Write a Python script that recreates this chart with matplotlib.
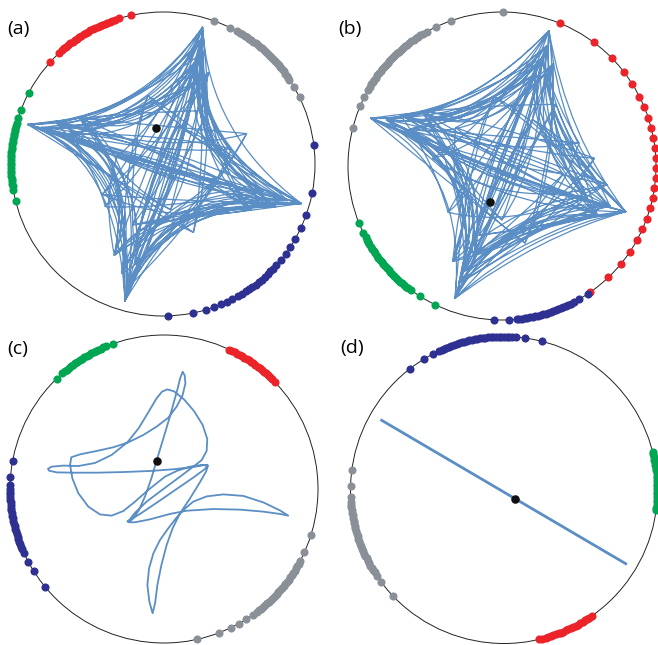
import numpy as np
import matplotlib.pyplot as plt
from matplotlib.path import Path
from matplotlib.patches import PathPatch, Circle

W, H = 658, 645

RED = '#ec2329'
GRAY = '#8a9097'
BLUE = '#2e3192'
GREEN = '#00a651'
TRACE = '#5a8ec4'

# ---- phases on the unit circle (degrees) ----
a_red = [102.2, 106.7, 108.5, 109.5, 110.5, 111.5, 112.5, 113.5, 114.5, 115.5, 116.5,
         117.5, 118.5, 119.5, 120.5, 121.5, 122.5, 123.5, 124.5, 125.5, 126.5, 127.5,
         128.5, 129.5, 130.5, 131.5, 133.0, 138.1]
a_green = [152.2, 159.1, 162.5, 164.5, 165.5, 166.5, 167.5, 168.5, 169.5, 170.5, 171.5,
           172.5, 173.5, 174.5, 175.5, 176.5, 177.5, 178.5, 179.5, 180.5, 181.5, 182.5,
           183.5, 184.5, 185.5, 186.5, 187.5, 188.5, 189.9, 194.1]
a_gray = [70.5, 63.8, 60.7, 59.5, 58.5, 57.5, 56.5, 55.5, 54.5, 53.5, 52.5, 51.5, 50.5,
          49.5, 48.5, 47.5, 46.5, 45.5, 44.5, 43.5, 42.5, 41.5, 40.5, 39.5, 38.5, 37.5,
          36.5, 35.5, 34.5, 33.7, 30.6, 26.0]
a_blue = [7.1, -11.0, -19.6, -25.1, -29.5, -33.2, -36.2, -39.1, -41.8, -43.5, -45.0,
          -46.5, -48.0, -49.5, -51.0, -52.5, -54.0, -55.5, -57.0, -58.5, -60.6, -62.8,
          -65.1, -67.5, -70.5, -73.7, -78.5, -88.2]

b_gray = [89.6, 109.2, 115.3, 119.2, 121, 122, 123, 124, 125, 126, 127, 128, 129, 130,
          131, 132, 133, 134, 135, 136, 137, 138, 139, 140, 141, 142, 143, 144, 145, 146,
          147, 148, 149, 150.6, 153.3, 157.0, 165.6]
b_green = [201.7, 205.9, 207.6, 208.6, 209.6, 210.6, 211.6, 212.6, 213.6, 214.6, 215.6,
           216.6, 217.6, 218.6, 219.6, 220.6, 221.6, 222.6, 223.6, 224.6, 225.6, 226.6,
           227.6, 228.6, 229.6, 230.6, 231.6, 232.6, 233.8, 237.7, 244.1]
b_red = [67.9, 53.5, 44.3, 37.7, 32.2, 26.8, 22.5, 18.3, 14.2, 10.4, 6.6, 2.9, -0.9,
         -4.6, -8.3, -12.1, -16.0, -20.1, -24.2, -28.8, -34.0, -39.6, -46.3, -55.0]
b_blue = [-92.8, -87.3, -84.5, -83.5, -82.5, -81.5, -80.5, -79.5, -78.5, -77.5, -76.5,
          -75.5, -74.5, -73.5, -72.5, -71.5, -70.5, -69.5, -68.5, -67.5, -66.5, -65.5,
          -64.5, -63.5, -62.3, -59.9, -55.9]

c_green = [134.2, 131.4, 130.2, 129.2, 128.2, 127.2, 126.2, 125.2, 124.2, 123.2, 122.2,
           121.2, 120.2, 119.2, 118.2, 117.2, 116.2, 115.2, 114.2, 113.2, 112.2, 109.4]
c_red = [64.9, 63.6, 62.6, 61.6, 60.6, 59.6, 58.6, 57.6, 56.6, 55.6, 54.6, 53.6, 52.6,
         51.6, 50.6, 49.6, 48.6, 47.6, 46.6, 45.7, 43.9]
c_blue = [169.4, 175.7, 178.6, 180.0, 181.0, 182.0, 183.0, 184.0, 185.0, 186.0, 187.0,
          188.0, 189.0, 190.0, 191.0, 192.0, 193.0, 194.0, 195.0, 196.0, 197.0, 198.0,
          199.0, 200.0, 201.0, 202.0, 203.0, 204.4, 208.2, 212.1, 219.5]
c_gray = [-17.2, -24.3, -27.7, -29.0, -30.0, -31.0, -32.0, -33.0, -34.0, -35.0, -36.0,
          -37.0, -38.0, -39.0, -40.0, -41.0, -42.0, -43.0, -44.0, -45.0, -46.0, -47.0,
          -48.0, -49.0, -50.0, -51.0, -52.0, -53.0, -54.7, -57.7, -60.9, -64.3, -69.1,
          -77.5]

d_blue = [127.9, 121.6, 117.7, 115.2, 114.0, 113.0, 112.0, 111.0, 110.0, 109.0, 108.0,
          107.0, 106.0, 105.0, 104.0, 103.0, 102.0, 101.0, 100.0, 99.0, 98.0, 97.0, 96.0,
          95.0, 94.0, 93.0, 92.0, 91.0, 90.0, 89.0, 88.0, 87.0, 85.6, 82.2, 75.7]
d_green = [14.4, 13.4, 12.4, 11.4, 10.4, 9.4, 8.4, 7.4, 6.4, 5.4, 4.4, 3.4, 2.4, 1.4,
           0.4, -0.6, -1.6, -2.6, -3.6, -4.6, -5.6, -6.6, -7.6]
d_gray = [172.4, 178.6, 182.6, 184.5, 185.5, 186.5, 187.5, 188.5, 189.5, 190.5, 191.5,
          192.5, 193.5, 194.5, 195.5, 196.5, 197.5, 198.5, 199.5, 200.5, 201.5, 202.5,
          203.5, 204.5, 205.5, 206.5, 207.5, 208.5, 209.5, 210.5, 211.5, 212.5, 214.1,
          217.0, 223.6]
d_red = [-55.0, -56.2, -57.2, -58.2, -59.2, -60.2, -61.2, -62.2, -63.2, -64.2, -65.2,
         -66.2, -67.2, -68.2, -69.2, -70.2, -71.2, -72.2, -73.2, -74.2, -75.7, -76.7]

# ---- mean-field point ----
centroid = {'a': (-0.046, 0.239), 'b': (-0.078, -0.232),
            'c': (-0.048, 0.184), 'd': (0.070, -0.057)}

# ---- order-parameter trajectories ----
# (a), (b): knots and quadratic control points of the trajectory
a_knots = [(0.26, 0.90), (-0.89, 0.26), (0.91, -0.26), (-0.25, -0.90), (0.25, 0.82),
           (-0.80, 0.24), (-0.24, -0.82), (0.82, -0.24), (0.27, 0.74), (-0.70, 0.27),
           (0.74, -0.28), (-0.27, -0.72), (0.22, 0.66), (-0.62, 0.20), (0.66, -0.18),
           (-0.18, -0.66), (0.30, 0.60), (-0.55, 0.30), (-0.32, -0.60), (0.58, -0.30),
           (0.26, 0.90), (0.91, -0.26), (-0.89, 0.26), (-0.25, -0.90), (0.25, 0.82),
           (0.74, -0.28), (-0.80, 0.24), (0.27, 0.74), (-0.24, -0.82), (0.82, -0.24),
           (-0.70, 0.27), (-0.18, -0.66), (0.22, 0.66), (0.66, -0.18), (-0.62, 0.20),
           (0.30, 0.60), (-0.27, -0.72), (-0.55, 0.30), (0.58, -0.30), (0.26, 0.90),
           (-0.32, -0.60), (0.91, -0.26), (-0.89, 0.26), (0.25, 0.82), (-0.25, -0.90),
           (0.74, -0.28), (-0.80, 0.24), (0.27, 0.74),
           (0.45, 0.10), (-0.89, 0.26), (0.20, -0.45), (0.26, 0.90), (-0.40, -0.20),
           (0.91, -0.26), (-0.10, 0.45), (-0.25, -0.90), (0.35, -0.10), (-0.80, 0.24),
           (0.05, -0.30), (0.25, 0.82), (-0.30, 0.05), (0.82, -0.24), (0.10, 0.25),
           (-0.24, -0.82), (0.55, 0.20), (-0.70, 0.27), (-0.38, -0.28), (0.27, 0.74),
           (-0.20, -0.40), (0.74, -0.28), (0.30, 0.35), (-0.27, -0.72), (0.45, 0.10),
           (-0.62, 0.20), (0.20, -0.45), (0.22, 0.66), (-0.38, -0.28), (0.66, -0.18),
           (-0.10, 0.45), (-0.18, -0.66), (0.55, 0.20), (-0.55, 0.30), (0.05, -0.30),
           (0.30, 0.60), (-0.40, -0.20), (0.58, -0.30), (-0.30, 0.05), (-0.32, -0.60),
           (0.35, -0.10), (-0.89, 0.26), (0.30, 0.35), (-0.25, -0.90), (0.10, 0.25),
           (0.91, -0.26), (-0.20, -0.40), (0.26, 0.90), (-0.80, 0.24), (0.82, -0.24),
           (-0.24, -0.82), (0.25, 0.82),
           (-0.89, 0.26), (-0.25, -0.90), (0.91, -0.26), (0.25, 0.82), (-0.80, 0.24),
           (-0.24, -0.82), (0.82, -0.24), (0.27, 0.74), (-0.70, 0.27), (-0.27, -0.72),
           (0.74, -0.28), (0.22, 0.66), (-0.62, 0.20), (-0.18, -0.66), (0.66, -0.18),
           (0.30, 0.60), (-0.55, 0.30), (-0.32, -0.60), (0.58, -0.30), (0.26, 0.90),
           (-0.80, 0.24), (-0.27, -0.72), (0.66, -0.18), (0.30, 0.60), (-0.89, 0.26),
           (-0.24, -0.82), (0.74, -0.28), (0.22, 0.66), (-0.55, 0.30), (-0.25, -0.90),
           (0.82, -0.24), (0.27, 0.74), (-0.62, 0.20), (-0.32, -0.60), (0.91, -0.26),
           (0.25, 0.82)]
a_ctrl = [(-0.18, 0.28), (0.02, 0.02), (-0.03, -0.25), (0.06, -0.02), (-0.10, 0.20),
          (-0.22, 0.02), (0.05, -0.15), (0.21, 0.12), (-0.25, 0.35), (0.05, 0.10),
          (-0.10, -0.30), (0.20, 0.10), (-0.05, 0.30), (-0.05, -0.08), (0.10, -0.35),
          (-0.15, -0.05), (-0.20, 0.15), (-0.15, -0.10), (-0.05, -0.30), (0.15, 0.05),
          (0.30, 0.20), (0.10, -0.05), (-0.30, 0.05), (0.10, -0.15), (0.10, 0.15),
          (-0.10, 0.05), (-0.12, 0.22), (-0.05, 0.15), (0.00, -0.20), (0.00, 0.15),
          (-0.10, 0.05), (0.12, 0.05), (0.18, 0.08), (0.00, -0.15), (-0.15, 0.25),
          (0.00, 0.05), (-0.20, -0.05), (0.08, 0.05), (0.25, 0.15), (-0.10, 0.00),
          (0.08, -0.28), (-0.03, -0.03), (-0.20, 0.30), (0.15, -0.05), (-0.08, -0.22),
          (0.05, -0.10), (-0.08, 0.18),
          (0.20, 0.35), (-0.05, 0.05), (-0.30, -0.10), (0.35, 0.10), (-0.05, 0.25),
          (0.10, -0.25), (0.30, 0.05), (-0.30, -0.05), (0.05, -0.40), (0.00, 0.15),
          (-0.35, -0.10), (0.25, 0.05), (0.00, 0.30), (0.20, -0.20), (0.45, 0.10),
          (-0.10, -0.10), (0.25, -0.35), (0.05, 0.05), (-0.45, 0.00), (-0.05, 0.00),
          (0.15, 0.05), (0.25, -0.30), (0.40, 0.00), (0.05, -0.15), (0.25, -0.40),
          (0.00, 0.20), (-0.25, -0.25), (0.30, 0.15), (-0.10, 0.10), (0.00, -0.30),
          (0.35, 0.15), (-0.25, 0.00), (0.30, -0.25), (0.00, 0.25), (-0.25, -0.15),
          (0.15, 0.10), (-0.05, 0.10), (0.05, -0.40), (0.10, 0.00), (-0.40, -0.20),
          (0.05, -0.35), (-0.10, -0.05), (-0.20, 0.35), (0.05, -0.10), (-0.15, -0.20),
          (0.40, 0.05), (0.25, -0.35), (0.00, 0.10), (-0.15, 0.30), (0.00, -0.05),
          (0.00, -0.30), (0.02, 0.02),
          (-0.18, 0.28), (-0.22, 0.02), (-0.03, -0.25), (0.19, 0.11), (-0.14, 0.22),
          (-0.18, 0.02), (-0.02, -0.20), (0.15, 0.08), (-0.11, 0.17), (-0.13, 0.01),
          (-0.02, -0.15), (0.10, 0.06), (-0.09, 0.14), (-0.11, 0.01), (-0.02, -0.12),
          (0.17, 0.10), (-0.16, 0.25), (-0.20, 0.02), (-0.03, -0.22), (0.21, 0.12),
          (-0.13, 0.20), (-0.15, 0.01), (-0.02, -0.18), (0.13, 0.07), (-0.17, 0.27),
          (-0.21, 0.02), (-0.03, -0.24), (0.20, 0.11), (-0.07, 0.11), (-0.09, 0.01),
          (-0.01, -0.10), (0.08, 0.05), (-0.15, 0.24), (-0.19, 0.02), (-0.03, -0.21),
          (0.18, 0.10)]

b_knots = [(0.305, 0.879), (-0.853, 0.310), (0.803, -0.297), (-0.305, -0.859), (0.29, 0.78),
           (-0.75, 0.30), (-0.28, -0.76), (0.70, -0.26), (0.26, 0.70), (-0.66, 0.33),
           (0.62, -0.32), (-0.24, -0.68), (0.33, 0.66), (-0.60, 0.24), (0.55, -0.20),
           (-0.32, -0.62), (0.22, 0.60), (-0.52, 0.36), (-0.18, -0.58), (0.68, -0.12),
           (0.305, 0.879), (0.803, -0.297), (-0.853, 0.310), (-0.305, -0.859), (0.29, 0.78),
           (0.62, -0.32), (-0.75, 0.30), (0.26, 0.70), (-0.28, -0.76), (0.70, -0.26),
           (-0.66, 0.33), (-0.32, -0.62), (0.33, 0.66), (0.55, -0.20), (-0.60, 0.24),
           (0.22, 0.60), (-0.24, -0.68), (-0.52, 0.36), (0.68, -0.12), (0.305, 0.879),
           (-0.18, -0.58), (0.803, -0.297), (-0.853, 0.310), (0.29, 0.78), (-0.305, -0.859),
           (0.62, -0.32), (-0.75, 0.30), (0.26, 0.70),
           (0.50, 0.15), (-0.853, 0.310), (0.15, -0.50), (0.305, 0.879), (-0.45, 0.05),
           (0.803, -0.297), (-0.05, 0.45), (-0.305, -0.859), (0.40, -0.05), (-0.75, 0.30),
           (0.00, -0.35), (0.29, 0.78), (-0.30, 0.25), (0.70, -0.26), (0.20, 0.30),
           (-0.28, -0.76), (0.60, 0.05), (-0.66, 0.33), (-0.35, -0.30), (0.26, 0.70),
           (-0.15, -0.45), (0.62, -0.32), (0.35, 0.40), (-0.24, -0.68), (0.50, 0.15),
           (-0.60, 0.24), (0.15, -0.50), (0.33, 0.66), (-0.35, -0.30), (0.55, -0.20),
           (-0.05, 0.45), (-0.32, -0.62), (0.60, 0.05), (-0.52, 0.36), (0.00, -0.35),
           (0.22, 0.60), (-0.45, 0.05), (0.68, -0.12), (-0.30, 0.25), (-0.18, -0.58),
           (0.40, -0.05), (-0.853, 0.310), (0.35, 0.40), (-0.305, -0.859), (0.20, 0.30),
           (0.803, -0.297), (-0.15, -0.45), (0.305, 0.879), (-0.75, 0.30), (0.70, -0.26),
           (-0.28, -0.76), (0.29, 0.78),
           (-0.853, 0.310), (-0.305, -0.859), (0.803, -0.297), (0.29, 0.78), (-0.75, 0.30),
           (-0.28, -0.76), (0.70, -0.26), (0.26, 0.70), (-0.66, 0.33), (-0.24, -0.68),
           (0.62, -0.32), (0.33, 0.66), (-0.60, 0.24), (-0.32, -0.62), (0.55, -0.20),
           (0.22, 0.60), (-0.52, 0.36), (-0.18, -0.58), (0.68, -0.12), (0.305, 0.879),
           (-0.75, 0.30), (-0.24, -0.68), (0.55, -0.20), (0.22, 0.60), (-0.853, 0.310),
           (-0.28, -0.76), (0.62, -0.32), (0.33, 0.66), (-0.52, 0.36), (-0.305, -0.859),
           (0.70, -0.26), (0.26, 0.70), (-0.60, 0.24), (-0.18, -0.58), (0.803, -0.297),
           (0.29, 0.78)]
b_ctrl = [(-0.25, 0.30), (-0.05, -0.05), (0.19, -0.42), (-0.05, 0.00), (-0.15, 0.22),
          (-0.08, -0.03), (0.10, -0.30), (0.35, 0.11), (-0.30, 0.38), (0.00, 0.08),
          (0.05, -0.40), (0.12, 0.05), (-0.10, 0.30), (-0.10, -0.15), (0.25, -0.48),
          (-0.20, -0.08), (-0.22, 0.15), (-0.15, -0.12), (0.02, -0.38), (0.25, 0.02),
          (0.42, 0.20), (0.05, -0.10), (-0.22, 0.00), (0.05, -0.12), (0.22, 0.15),
          (-0.12, 0.00), (-0.15, 0.25), (-0.12, 0.10), (0.08, -0.25), (-0.05, 0.10),
          (-0.05, 0.05), (0.08, 0.05), (0.30, 0.05), (0.00, -0.20), (-0.20, 0.35),
          (-0.05, 0.02), (-0.25, -0.10), (0.02, 0.00), (0.38, 0.18), (-0.15, -0.02),
          (0.15, -0.35), (-0.08, -0.08), (-0.28, 0.28), (0.10, -0.08), (0.00, -0.30),
          (0.00, -0.12), (-0.10, 0.22),
          (0.35, 0.40), (-0.10, 0.05), (-0.30, -0.15), (0.40, 0.05), (-0.05, 0.30),
          (0.10, -0.30), (0.40, 0.10), (-0.25, -0.05), (0.10, -0.45), (0.00, 0.15),
          (-0.35, -0.05), (0.25, 0.00), (0.00, 0.40), (0.10, -0.10), (0.55, 0.10),
          (-0.10, -0.15), (0.30, -0.45), (0.00, 0.10), (-0.45, 0.05), (-0.05, -0.05),
          (0.20, 0.00), (0.20, -0.40), (0.50, 0.05), (0.05, -0.10), (0.30, -0.45),
          (-0.05, 0.20), (-0.20, -0.25), (0.35, 0.10), (-0.10, 0.15), (0.05, -0.40),
          (0.40, 0.20), (-0.25, 0.05), (0.30, -0.35), (0.05, 0.25), (-0.25, -0.10),
          (0.15, 0.05), (-0.05, 0.15), (0.05, -0.30), (0.10, 0.10), (-0.35, -0.15),
          (0.10, -0.35), (-0.10, 0.00), (-0.20, 0.40), (0.05, -0.15), (-0.10, -0.20),
          (0.45, 0.10), (0.25, -0.40), (0.00, 0.05), (-0.20, 0.35), (-0.05, -0.05),
          (0.15, -0.40), (-0.02, 0.00),
          (-0.25, 0.30), (-0.03, 0.00), (0.25, -0.45), (0.22, 0.28), (-0.20, 0.24),
          (-0.02, 0.00), (0.20, -0.36), (0.18, 0.22), (-0.15, 0.18), (-0.02, 0.00),
          (0.15, -0.27), (0.12, 0.15), (-0.12, 0.15), (-0.10, -0.05), (0.12, -0.22),
          (0.20, 0.25), (-0.22, 0.27), (-0.08, 0.02), (0.22, -0.40), (0.25, 0.31),
          (-0.17, 0.21), (0.00, -0.05), (0.17, -0.31), (0.15, 0.19), (-0.24, 0.29),
          (-0.06, 0.03), (0.24, -0.43), (0.24, 0.29), (-0.10, 0.12), (-0.04, -0.04),
          (0.10, -0.18), (0.10, 0.12), (-0.21, 0.26), (-0.05, 0.02), (0.21, -0.38),
          (0.21, 0.26)]

# (c): sampled trajectory
c_x = [0.121, 0.106, 0.089, 0.065, 0.035, -0.004, -0.048, -0.082, -0.121, -0.162, -0.199,
       -0.229, -0.188, -0.091, 0.039, 0.147, 0.320, 0.494, 0.645, 0.753, 0.807,
       0.753, 0.645, 0.515, 0.385, 0.277, 0.190, 0.126, 0.078, 0.028, -0.026, -0.069,
       -0.097, -0.108, -0.095, -0.074,
       -0.058, -0.043, -0.017, 0.017, 0.056, 0.104, 0.169, 0.229, 0.273, 0.286,
       0.266, 0.190, 0.061, -0.091, -0.264, -0.437, -0.589, -0.697, -0.747, -0.753,
       -0.729, -0.654, -0.556, -0.448, -0.340, -0.238, -0.165, -0.102, -0.048, -0.013,
       0.022, 0.065, 0.130, 0.195, 0.251, 0.281, 0.277, 0.245, 0.190, 0.104, -0.004,
       -0.113, -0.188, -0.225,
       -0.238, -0.156, -0.037, 0.082, 0.190, 0.266, 0.281, 0.245, 0.169, 0.082, 0.006,
       -0.102, -0.188, -0.264, -0.340, -0.416, -0.491, -0.556, -0.595, -0.610, -0.602,
       -0.545, -0.437, -0.329, -0.232, -0.134, -0.048, 0.028, 0.082, 0.121, 0.139, 0.134,
       0.121]
c_y = [0.758, 0.723, 0.654, 0.567, 0.459, 0.329, 0.184, 0.069, -0.043, -0.136, -0.190,
       -0.216, -0.216, -0.197, -0.162, -0.141, -0.130, -0.134, -0.147, -0.162, -0.173,
       -0.139, -0.087, -0.045, -0.035, -0.048, -0.082, -0.136, -0.190, -0.255, -0.331,
       -0.418, -0.515, -0.623, -0.732, -0.807,
       -0.742, -0.623, -0.494, -0.364, -0.255, -0.158, -0.061, 0.037, 0.113, 0.152,
       0.156, 0.143, 0.128, 0.117, 0.110, 0.106, 0.106, 0.108, 0.119, 0.132,
       0.145, 0.152, 0.149, 0.169, 0.221, 0.303, 0.394, 0.498, 0.589, 0.632,
       0.647, 0.634, 0.582, 0.506, 0.416, 0.325, 0.247, 0.188, 0.145, 0.080, 0.000,
       -0.082, -0.154, -0.201,
       -0.212, -0.162, -0.082, 0.000, 0.074, 0.130, 0.156, 0.156, 0.145, 0.117, 0.080,
       -0.006, -0.082, -0.143, -0.173, -0.165, -0.115, -0.028, 0.069, 0.156, 0.206,
       0.225, 0.247, 0.271, 0.303, 0.351, 0.405, 0.463, 0.535, 0.610, 0.686, 0.740,
       0.758]

# (d): trajectory collapsed onto a line
d_x = [-0.797, 0.793]
d_y = [0.454, -0.480]

# panel centre (x, y from top) and radius in figure pixels
layout = {'a': (163, 164, 152), 'b': (502, 166, 154),
          'c': (164, 489, 154), 'd': (504, 490, 153.5)}
label_pos = {'a': (7, 29), 'b': (338, 29), 'c': (7, 349), 'd': (340, 348)}


def make_panel(fig, key):
    cx, cy, r = layout[key]
    ax = fig.add_axes([(cx - r) / W, (H - cy - r) / H, 2 * r / W, 2 * r / H])
    ax.set_xlim(-1, 1)
    ax.set_ylim(-1, 1)
    ax.set_aspect('equal')
    ax.axis('off')
    ax.add_patch(Circle((0, 0), 1, fill=False, ec='#222222', lw=0.7, clip_on=False))
    lx, ly = label_pos[key]
    fig.text(lx / W, 1 - ly / H, f'({key})', fontsize=14, family='Open Sans',
             ha='left', va='center')
    return ax


def ring(ax, angles, color):
    t = np.deg2rad(angles)
    ax.scatter(np.cos(t), np.sin(t), s=34, color=color, lw=0, zorder=3, clip_on=False)


def curved_trace(ax, knots, ctrl):
    verts = [knots[0]]
    codes = [Path.MOVETO]
    for c, k in zip(ctrl, knots[1:]):
        verts += [c, k]
        codes += [Path.CURVE3, Path.CURVE3]
    ax.add_patch(PathPatch(Path(verts, codes), fill=False, ec=TRACE, lw=0.9,
                           joinstyle='round', zorder=1))


def mean_point(ax, key):
    x, y = centroid[key]
    ax.scatter([x], [y], s=38, color='#111111', lw=0, zorder=4)


fig = plt.figure(figsize=(W / 100, H / 100), dpi=100)

ax = make_panel(fig, 'a')
curved_trace(ax, a_knots, a_ctrl)
for ang, col in [(a_red, RED), (a_gray, GRAY), (a_green, GREEN), (a_blue, BLUE)]:
    ring(ax, ang, col)
mean_point(ax, 'a')

ax = make_panel(fig, 'b')
curved_trace(ax, b_knots, b_ctrl)
for ang, col in [(b_red, RED), (b_gray, GRAY), (b_green, GREEN), (b_blue, BLUE)]:
    ring(ax, ang, col)
mean_point(ax, 'b')

ax = make_panel(fig, 'c')
ax.plot(c_x, c_y, color=TRACE, lw=1.3, solid_joinstyle='round', zorder=1)
for ang, col in [(c_red, RED), (c_gray, GRAY), (c_green, GREEN), (c_blue, BLUE)]:
    ring(ax, ang, col)
mean_point(ax, 'c')

ax = make_panel(fig, 'd')
ax.plot(d_x, d_y, color=TRACE, lw=2.0, zorder=1)
for ang, col in [(d_red, RED), (d_gray, GRAY), (d_green, GREEN), (d_blue, BLUE)]:
    ring(ax, ang, col)
mean_point(ax, 'd')

fig.savefig('out.png', dpi=100)
